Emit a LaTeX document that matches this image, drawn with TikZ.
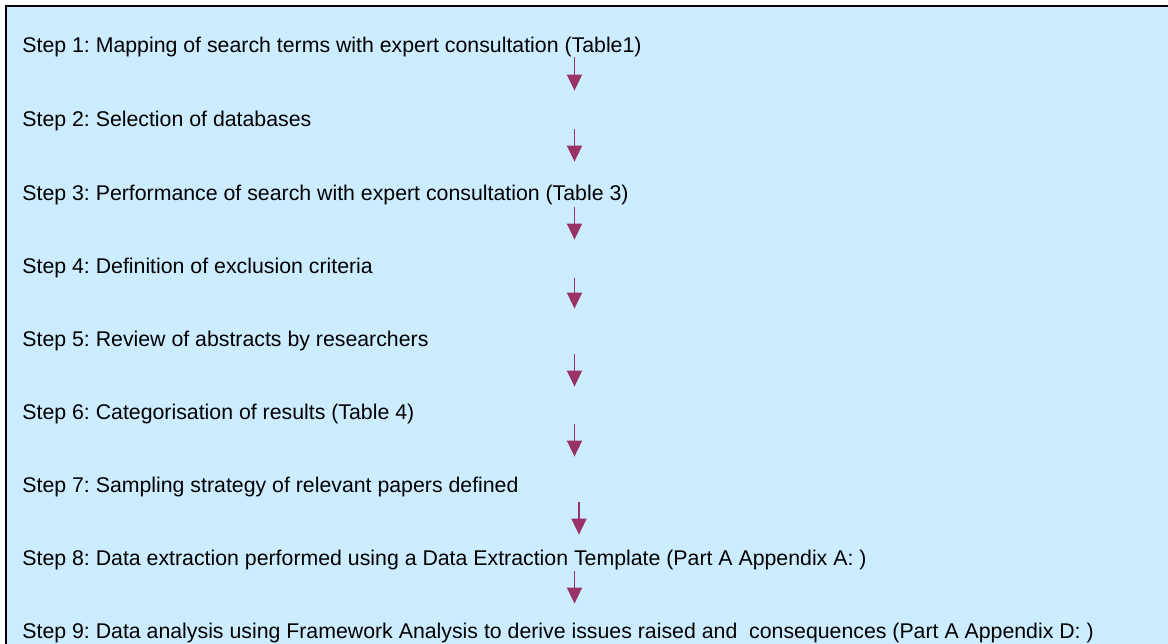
\documentclass[tikz,border=0pt]{standalone}
\usepackage{fontspec}
\setmainfont{Liberation Sans}
\usetikzlibrary{arrows.meta}
\frenchspacing

\definecolor{paleblue}{RGB}{204,236,255}
\definecolor{plum}{RGB}{153,51,102}

\begin{document}
\begin{tikzpicture}[x=0.5pt, y=-0.5pt,
    stepline/.style={anchor=base west, inner sep=0, text height=7.75pt,
    text depth=2.25pt, font=\fontsize{10.65}{13}\selectfont},
    flow/.style={draw=plum, line width=0.85pt,
    -{Triangle[width=7.5pt, length=8pt]}}]

    \useasboundingbox (0, 0) rectangle (1168, 643);
    \clip (0, 0) rectangle (1168, 643);

    % Panel
    \fill[paleblue] (6, 6) rectangle (1190, 670);
    \draw[line width=1.15pt] (6, 670) -- (6, 6) -- (1190, 6);

    % Steps
    \node[stepline] (s1) at (22, 52)
    {Step 1: Mapping of search terms with expert consultation (Table1)};
    \node[stepline] (s2) at (22, 126) {Step 2: Selection of databases};
    \node[stepline] (s3) at (22, 200)
    {Step 3: Performance of search with expert consultation (Table 3)};
    \node[stepline] (s4) at (22, 273) {Step 4: Definition of exclusion criteria};
    \node[stepline] (s5) at (22, 346) {Step 5: Review of abstracts by researchers};
    \node[stepline] (s6) at (22, 419) {Step 6: Categorisation of results (Table 4)};
    \node[stepline] (s7) at (22, 492)
    {Step 7: Sampling strategy of relevant papers defined};
    \node[stepline] (s8) at (22, 565)
    {Step 8: Data extraction performed using a Data Extraction Template (Part A Appendix A: )};
    \node[stepline] (s9) at (22, 638)
    {Step 9: Data analysis using Framework Analysis to derive issues raised and\ \ consequences (Part A Appendix D: )};

    % Arrows
    \coordinate (col) at (574.5, 0);
    \coordinate (col7) at (579, 0);
    \draw[flow, shorten >=9.75pt] (s1.south -| col) -- (s2.north -| col);
    \draw[flow, shorten <=-0.75pt, shorten >=11.25pt] (s2.south -| col) -- (s3.north -| col);
    \draw[flow, shorten <=1.25pt, shorten >=8.75pt] (s3.south -| col) -- (s4.north -| col);
    \draw[flow, shorten >=10.75pt] (s4.south -| col) -- (s5.north -| col);
    \draw[flow, shorten <=1.75pt, shorten >=8.25pt] (s5.south -| col) -- (s6.north -| col);
    \draw[flow, shorten >=9.75pt] (s6.south -| col) -- (s7.north -| col);
    \draw[flow, shorten <=2.75pt, shorten >=7.25pt] (s7.south -| col7) -- (s8.north -| col7);
    \draw[flow, shorten <=0.75pt, shorten >=9.25pt] (s8.south -| col) -- (s9.north -| col);

\end{tikzpicture}
\end{document}
